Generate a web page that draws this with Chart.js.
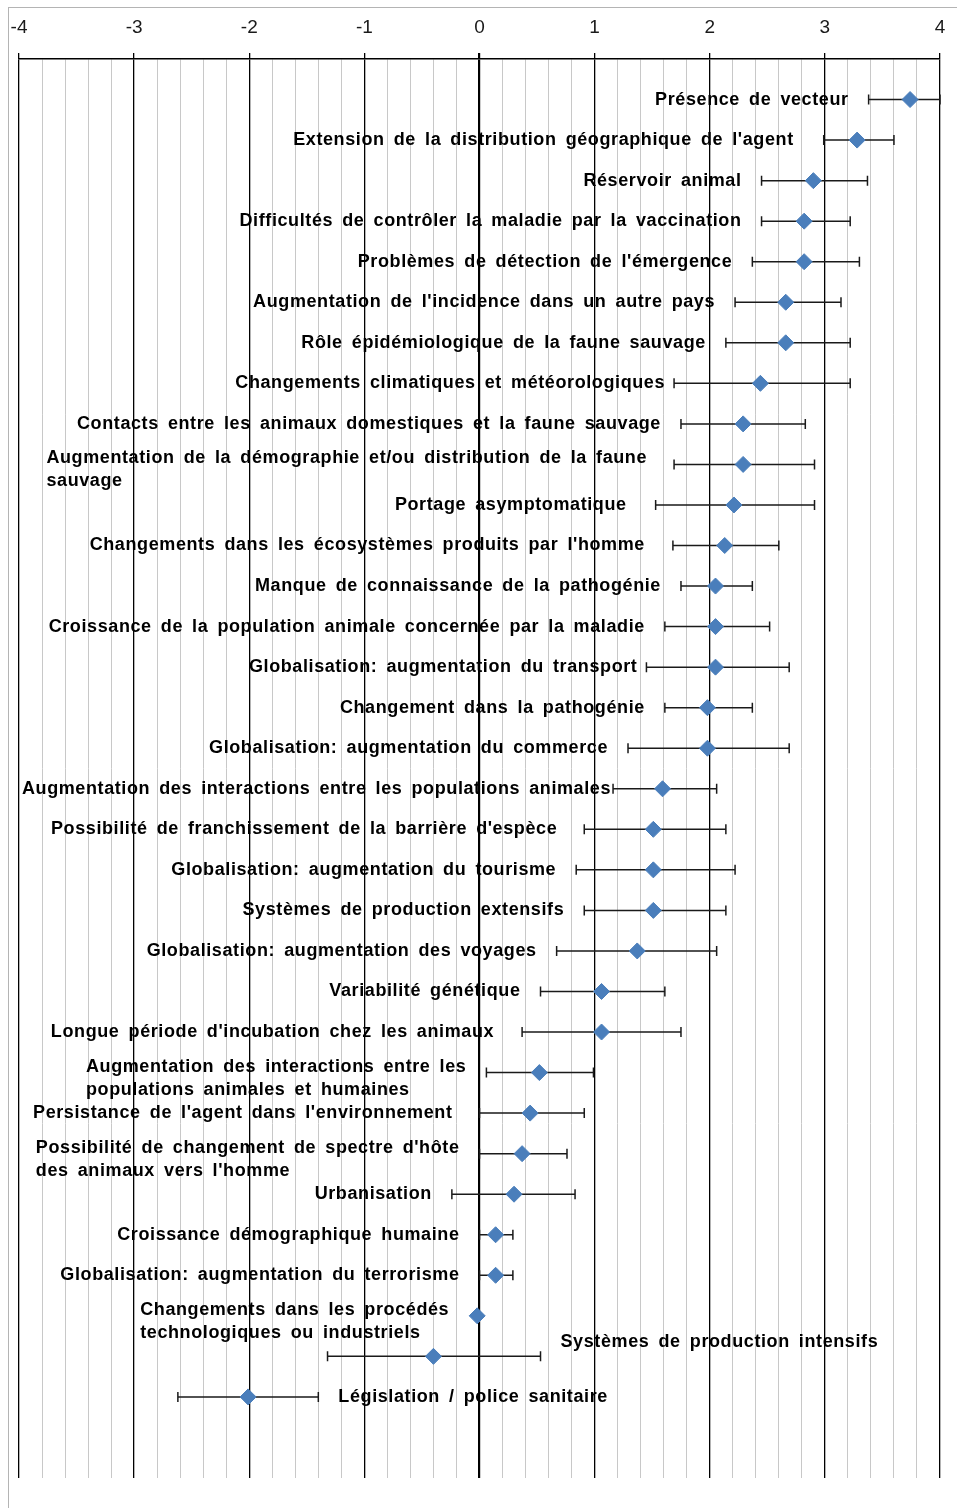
<!DOCTYPE html>
<html>
<head>
<meta charset="utf-8">
<script src="https://cdn.jsdelivr.net/npm/chart.js@4.4.1/dist/chart.umd.min.js"></script>
<style>
	html, body { margin: 0; padding: 0; background: #fff; }
	#frame {
		position: absolute; left: 8px; top: 7px; width: 960px; height: 1520px;
		border-left: 1px solid #b4b4b4; border-top: 1px solid #b4b4b4;
	}
	#riskChart { position: absolute; left: 0; top: 0; }
</style>
</head>
<body>
<div id="frame"></div>
<canvas id="riskChart" width="957" height="1508"></canvas>
<script>
// Facteurs d'émergence, du plus important au moins important
const categories = [
	"Présence de vecteur",
	"Extension de la distribution géographique de l'agent",
	"Réservoir animal",
	"Difficultés de contrôler la maladie par la vaccination",
	"Problèmes de détection de l'émergence",
	"Augmentation de l'incidence dans un autre pays",
	"Rôle épidémiologique de la faune sauvage",
	"Changements climatiques et météorologiques",
	"Contacts entre les animaux domestiques et la faune sauvage",
	"Augmentation de la démographie et/ou distribution de la faune\nsauvage",
	"Portage asymptomatique",
	"Changements dans les écosystèmes produits par l'homme",
	"Manque de connaissance de la pathogénie",
	"Croissance de la population animale concernée par la maladie",
	"Globalisation: augmentation du transport",
	"Changement dans la pathogénie",
	"Globalisation: augmentation du commerce",
	"Augmentation des interactions entre les populations animales",
	"Possibilité de franchissement de la barrière d'espèce",
	"Globalisation: augmentation du tourisme",
	"Systèmes de production extensifs",
	"Globalisation: augmentation des voyages",
	"Variabilité génétique",
	"Longue période d'incubation chez les animaux",
	"Augmentation des interactions entre les\npopulations animales et humaines",
	"Persistance de l'agent dans l'environnement",
	"Possibilité de changement de spectre d'hôte\ndes animaux vers l'homme",
	"Urbanisation",
	"Croissance démographique humaine",
	"Globalisation: augmentation du terrorisme",
	"Changements dans les procédés\ntechnologiques ou industriels",
	"Systèmes de production intensifs",
	"Législation / police sanitaire",
]

// score moyen
const meanScores = [
	3.74, 3.28, 2.9, 2.82, 2.82, 2.66, 2.66, 2.44, 2.29, 2.29, 2.21,
	2.13, 2.05, 2.05, 2.05, 1.98, 1.98, 1.59, 1.51, 1.51, 1.51, 1.37,
	1.06, 1.06, 0.52, 0.44, 0.37, 0.3, 0.14, 0.14, -0.02, -0.4, -2.01,
]

// bornes des barres d'erreur (null = pas de barre)
const lowerBounds = [
	3.38, 2.99, 2.45, 2.45, 2.37, 2.22, 2.14, 1.69, 1.75, 1.69, 1.53,
	1.68, 1.75, 1.61, 1.45, 1.61, 1.29, 1.16, 0.91, 0.84, 0.91, 0.67,
	0.53, 0.37, 0.06, 0.0, 0.0, -0.24, 0.0, 0.0, null, -1.32, -2.62,
]
const upperBounds = [
	4.0, 3.6, 3.37, 3.22, 3.3, 3.14, 3.22, 3.22, 2.83, 2.91, 2.91,
	2.6, 2.37, 2.52, 2.69, 2.37, 2.69, 2.06, 2.14, 2.22, 2.14, 2.06,
	1.61, 1.75, 0.99, 0.91, 0.76, 0.83, 0.29, 0.29, null, 0.53, -1.4,
]

const axisTicks = [-4, -3, -2, -1, 0, 1, 2, 3, 4]

function isMajor(v) {
	return axisTicks.some((t) => Math.abs(t - v) < 1e-6)
}

// labels placed to the right of the bar instead of the left
const rightLabels = [31, 32]
const labelLift = { 31: -14 }
// hand-placed labels in the original sit a bit closer / further from their bar
const labelGap = { 1: 30, 7: 9, 9: 27, 10: 29, 11: 28, 14: 9, 17: 2, 18: 27, 23: 28, 25: 27 }
const labelFont = "bold 18px 'Liberation Sans', Arial, sans-serif"

const errorBarsPlugin = {
	id: "errorBars",
	beforeDatasetsDraw(chart) {
		const ctx = chart.ctx
		const xs = chart.scales.x
		const ys = chart.scales.y
		ctx.save()
		ctx.strokeStyle = "#1a1a1a"
		ctx.lineWidth = 1.5
		for (let i = 0; i < meanScores.length; i++) {
			if (lowerBounds[i] === null) continue
			const y = ys.getPixelForValue(i)
			const x1 = xs.getPixelForValue(lowerBounds[i])
			const x2 = xs.getPixelForValue(upperBounds[i])
			ctx.beginPath()
			ctx.moveTo(x1, y)
			ctx.lineTo(x2, y)
			ctx.moveTo(x1, y - 5)
			ctx.lineTo(x1, y + 5)
			ctx.moveTo(x2, y - 5)
			ctx.lineTo(x2, y + 5)
			ctx.stroke()
		}
		ctx.restore()
	},
}

const pointLabelsPlugin = {
	id: "pointLabels",
	afterDatasetsDraw(chart) {
		const ctx = chart.ctx
		const xs = chart.scales.x
		const ys = chart.scales.y
		ctx.save()
		ctx.font = labelFont
		ctx.fillStyle = "#000"
		ctx.textBaseline = "middle"
		ctx.letterSpacing = "0.6px"
		ctx.wordSpacing = "3.5px"
		categories.forEach((label, i) => {
			const gap = labelGap[i] !== undefined ? labelGap[i] : 20
			const y = ys.getPixelForValue(i) + (labelLift[i] || 0)
			const lines = label.split("\n")
			if (rightLabels.includes(i)) {
				const x = xs.getPixelForValue(upperBounds[i]) + gap
				ctx.textAlign = "left"
				ctx.fillText(lines[0], x, y)
				return
			}
			let anchor
			if (lowerBounds[i] === null) {
				anchor = xs.getPixelForValue(meanScores[i]) - 8 - gap
			} else {
				anchor = xs.getPixelForValue(lowerBounds[i]) - gap
			}
			if (lines.length === 1) {
				ctx.textAlign = "right"
				ctx.fillText(label, anchor, y)
			} else {
				const w = Math.max(...lines.map((l) => ctx.measureText(l).width))
				ctx.textAlign = "left"
				lines.forEach((l, k) => {
					ctx.fillText(l, anchor - w, y - 6 + k * 23)
				})
			}
		})
		ctx.restore()
	},
}

document.addEventListener("DOMContentLoaded", function () {
	const chartCtx = document.getElementById("riskChart").getContext("2d")
	new Chart(chartCtx, {
		type: "scatter",
		data: {
			datasets: [
				{
					label: "Score",
					data: meanScores.map((v, i) => ({ x: v, y: i })),
					pointStyle: "rectRot",
					pointRadius: 8,
					pointHoverRadius: 8,
					backgroundColor: "#4a7ebb",
					borderColor: "#4a7ebb",
					borderWidth: 1,
				},
			],
		},
		options: {
			responsive: false,
			animation: false,
			devicePixelRatio: 1,
			layout: {
				padding: { left: 19, right: 17, top: 0, bottom: 30 },
			},
			plugins: {
				legend: { display: false },
				tooltip: { enabled: false },
			},
			scales: {
				x: {
					type: "linear",
					position: "top",
					min: -4,
					max: 4,
					afterFit: (scale) => {
						scale.height = 59
						scale.paddingLeft = 0
						scale.paddingRight = 0
					},
					ticks: {
						stepSize: 0.2,
						autoSkip: false,
						maxRotation: 0,
						padding: 14,
						color: "#1a1a1a",
						font: { family: "'Liberation Sans', Arial, sans-serif", size: 19 },
						callback: (v) => (isMajor(v) ? String(Math.round(v)) : ""),
					},
					grid: {
						drawTicks: true,
						tickLength: 6,
						color: (c) => {
							const v = c.tick ? c.tick.value : 0
							return isMajor(v) ? "#000" : "#c8c8c8"
						},
						lineWidth: (c) => {
							const v = c.tick ? c.tick.value : 0
							if (Math.abs(v) < 1e-6) return 2.2
							return isMajor(v) ? 1.3 : 1
						},
						tickColor: (c) => {
							const v = c.tick ? c.tick.value : 0
							return isMajor(v) ? "#000" : "rgba(0,0,0,0)"
						},
					},
					border: { display: true, color: "#000", width: 1.5 },
				},
				y: {
					type: "linear",
					display: false,
					min: -1,
					max: 34,
					reverse: true,
				},
			},
		},
		plugins: [errorBarsPlugin, pointLabelsPlugin],
	})
})
</script>
</body>
</html>
